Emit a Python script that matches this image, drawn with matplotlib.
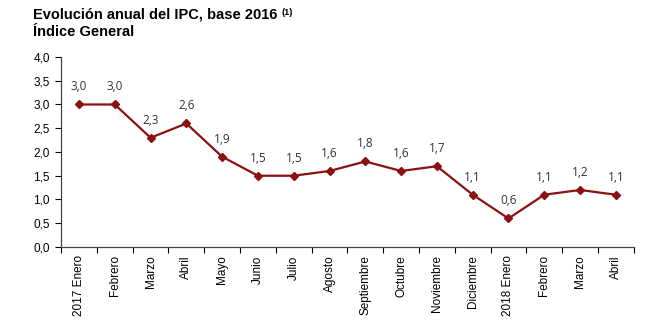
import matplotlib
matplotlib.use("Agg")
import matplotlib.pyplot as plt

months = ["2017 Enero", "Febrero", "Marzo", "Abril", "Mayo", "Junio", "Julio",
          "Agosto", "Septiembre", "Octubre", "Noviembre", "Diciembre",
          "2018 Enero", "Febrero", "Marzo", "Abril"]
ipc = [3.0, 3.0, 2.3, 2.6, 1.9, 1.5, 1.5, 1.6, 1.8, 1.6, 1.7, 1.1, 0.6, 1.1, 1.2, 1.1]
yticks = [0.0, 0.5, 1.0, 1.5, 2.0, 2.5, 3.0, 3.5, 4.0]

plt.rcParams['font.family'] = ['Liberation Sans', 'DejaVu Sans']
color = '#8b1010'

fig = plt.figure(figsize=(6.5, 3.22), dpi=100)
ax = fig.add_axes([0.094, 0.233, 0.881, 0.59])

x = list(range(len(months)))
ax.plot(x, ipc, color=color, lw=1.6, marker='D', ms=4.5, mec=color, mfc=color)
for xi, v in zip(x, ipc):
    ax.annotate(f"{v:.1f}".replace('.', ','), (xi, v), xytext=(0, 8),
                textcoords='offset points', ha='center', va='bottom',
                fontsize=8.5, color='#333333', family=['Open Sans', 'DejaVu Sans'])

ax.set_xlim(-0.5, len(months) - 0.5)
ax.set_ylim(0, 4.0)
ax.set_yticks(yticks)
ax.set_yticklabels([f"{t:.1f}".replace('.', ',') for t in yticks], fontsize=8.5)
ax.set_xticks(x)
ax.set_xticklabels(months, rotation=90, fontsize=8.5)
ax.tick_params(axis='x', which='major', length=0, pad=6)
ax.set_xticks([i + 0.5 for i in range(-1, len(months))], minor=True)
ax.tick_params(axis='x', which='minor', length=4, direction='out', width=0.8)
ax.tick_params(axis='y', length=4, direction='out', width=0.8, pad=4)
for s in ['top', 'right']:
    ax.spines[s].set_visible(False)
for s in ['left', 'bottom']:
    ax.spines[s].set_color('#444444')
    ax.spines[s].set_linewidth(0.9)

fig.text(0.051, 0.955, "Evolución anual del IPC, base 2016", fontsize=10.5,
         fontweight='bold', va='center')
fig.text(0.433, 0.962, "(1)", fontsize=6.5, fontweight='bold', va='center')
fig.text(0.051, 0.902, "Índice General", fontsize=10.5, fontweight='bold', va='center')

fig.savefig("out.png", dpi=100)
